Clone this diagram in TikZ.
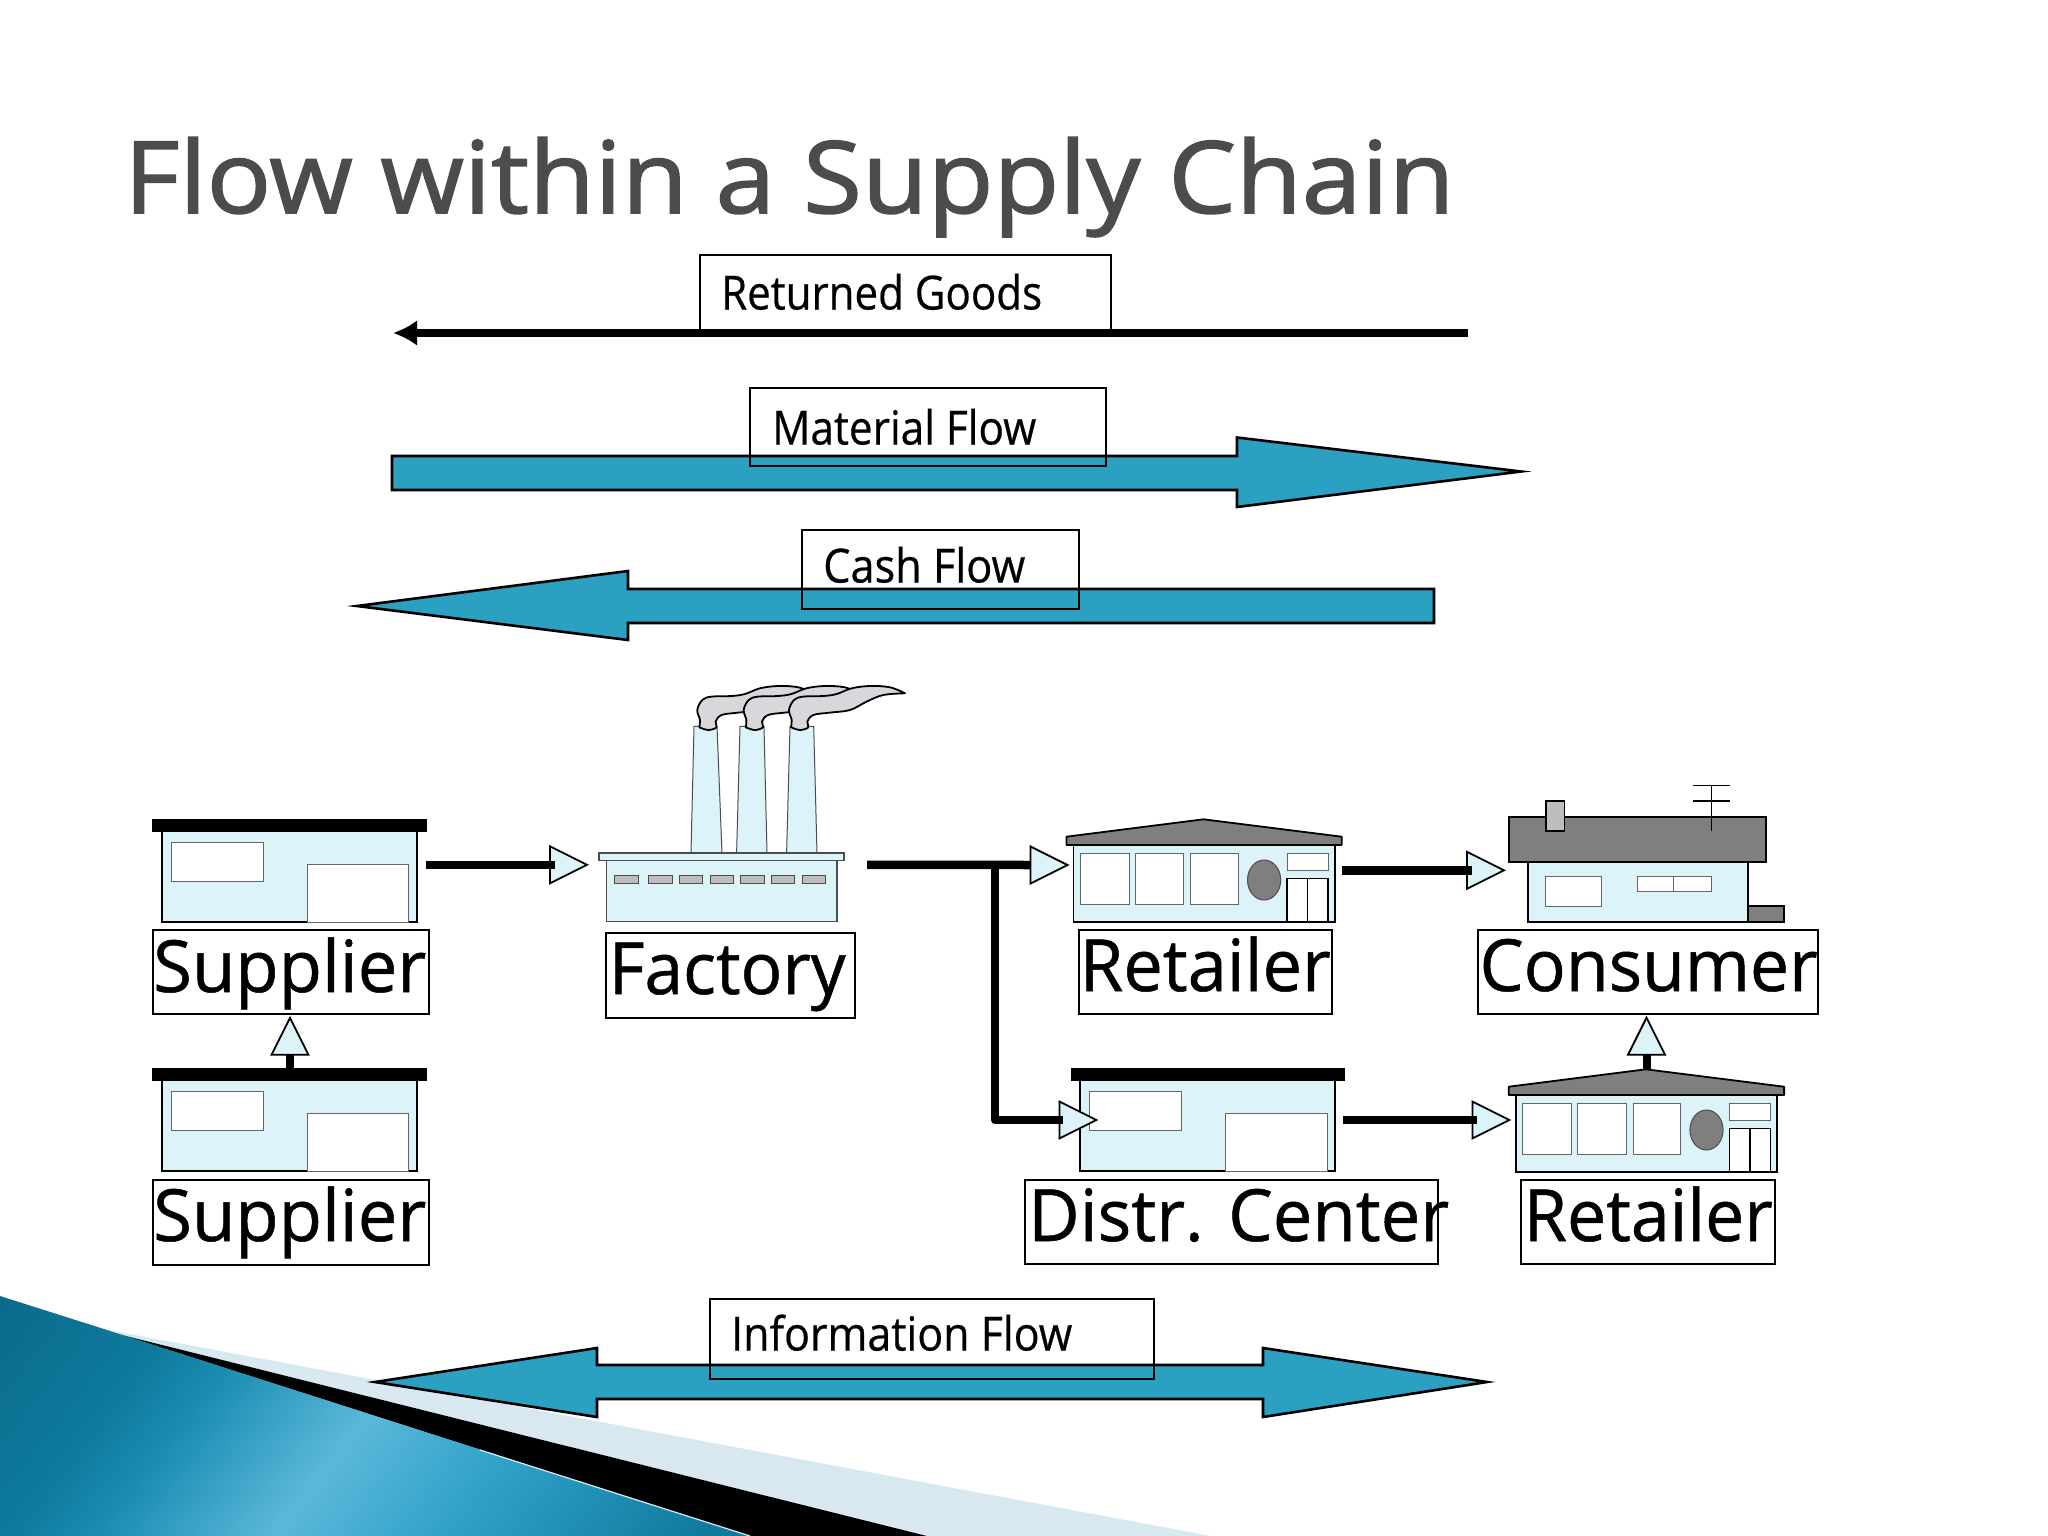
\documentclass[tikz,border=0pt]{standalone}
\usepackage{fontspec}
\setmainfont{Open Sans}
\newfontfamily\heavyfont[FakeBold=1.5]{Open Sans}
\newfontfamily\labelfont[FakeBold=0.7]{Open Sans}
\newfontfamily\midfont[FakeBold=0.5]{Open Sans}
\usetikzlibrary{fit,arrows.meta}
\definecolor{flowblue}{HTML}{2CA0C0}
\definecolor{paleblue}{HTML}{DCF3FA}
\definecolor{roofgray}{HTML}{7F7F7F}
\definecolor{wingray}{HTML}{BDBDBD}
\definecolor{smokegray}{HTML}{D8D8DC}
\definecolor{sliver}{HTML}{D8E8F0}
\definecolor{titlegray}{HTML}{4C4C4C}
\definecolor{dk}{HTML}{0A6A8C}
\definecolor{dk2}{HTML}{0E7A9C}
\definecolor{md}{HTML}{1A8CB2}
\definecolor{lt}{HTML}{5BB8DA}
\definecolor{mb}{HTML}{2FA0C8}
\definecolor{de}{HTML}{0F7A9C}
\pgfdeclarehorizontalshading{decorshade}{100bp}{color(0bp)=(dk); color(30bp)=(dk); color(37.5bp)=(dk2); color(41bp)=(md); color(48bp)=(lt); color(55bp)=(mb); color(65bp)=(de); color(100bp)=(de)}
\newdimen\fitdim
\newcommand{\fitw}[2]{\setbox0=\hbox{#2}\fitdim=\wd0\relax\pgfmathsetmacro{\fitr}{#1/\fitdim}\scalebox{\fitr}[1]{\box0}}
\newcommand{\boxlabel}[5]{\coordinate (#1-a) at (#2,#3);\coordinate (#1-b) at (#4,#5);\node[lblbox,fit=(#1-a)(#1-b)] (#1) {};}
\newcommand{\headat}[2]{\begin{scope}[shift={(#1)},rotate=#2]\draw[headstyle] (0,0) -- (-37,18.5) -- (-37,-18.5) -- cycle;\end{scope}}
\tikzset{
  x=1pt,y=-1pt,
  lblbox/.style={draw=black,line width=2pt,inner sep=0pt},
  bigtext/.style={anchor=base west,inner sep=0pt,font=\labelfont\fontsize{72}{80}\selectfont},
  smalltext/.style={anchor=base west,inner sep=0pt,font=\midfont\fontsize{47}{54}\selectfont},
  headstyle/.style={draw=black,line width=1.8pt,fill=paleblue,line join=miter},
  flowline/.style={draw=black,line width=8.5pt},
  bigarrow/.style={draw=black,line width=2.6pt,fill=flowblue,line join=miter},
  wall/.style={draw=black,line width=1.8pt,fill=paleblue},
  pane/.style={draw=black!60,line width=1pt,fill=white},
  pics/depot/.style={code={
    \fill[black] (0,0) rectangle (274.6,13);
    \draw[wall] (9.6,12) rectangle (264.6,103);
    \draw[pane] (18.6,23) rectangle (110.6,62.5);
    \draw[pane] (155,45.5) rectangle (256.5,103);
  }},
  pics/shop/.style={code={
    \draw[wall] (7,25.7) rectangle (268.4,102.7);
    \draw[draw=black,line width=1.8pt,fill=roofgray,line join=round] (0,17.4) -- (137.1,0) -- (275.3,17.4) -- (275.3,25.7) -- (0,25.7) -- cycle;
    \draw[pane] (13.6,34) rectangle (62.6,85);
    \draw[pane] (69.1,34) rectangle (117.3,85);
    \draw[pane] (124.3,34) rectangle (172,85);
    \draw[draw=black!70,line width=1pt,fill=roofgray] (197.7,60.7) ellipse [x radius=16.6,y radius=20];
    \draw[pane] (220.6,34) rectangle (261.6,51);
    \draw[draw=black,line width=1.6pt,fill=white] (220.6,59) rectangle (261.6,102.7);
    \draw[draw=black,line width=1.6pt] (241,59) -- (241,102.7);
  }},
  pics/smoke/.style={code={
    \draw[draw=black,line width=1.8pt,fill=smokegray,line join=round]
      plot[smooth,tension=0.6] coordinates {(0,0) (0.7,-7.3) (-2,-17.3) (3,-27.3) (12.3,-30.7) (32.3,-31.3) (45.7,-33.3) (60.7,-39) (79,-41.3) (99,-40) (114,-34)}
      -- plot[smooth,tension=0.6] coordinates {(114,-34) (92.3,-32.3) (75.7,-25.7) (59,-17.3) (39,-14.7) (22.3,-12.3) (16.3,-5.7) (17.3,0) (9,2.7) (0,0)} -- cycle;
  }},
}
\begin{document}
\begin{tikzpicture}
\useasboundingbox (0,0) rectangle (2048,1536);
\fill[white] (0,0) rectangle (2048,1536);
% corner decoration
\fill[sliver] (108,1330) -- (1211,1536) -- (750,1536) -- cycle;
\fill[black] (122,1335) -- (927,1536) -- (750,1536) -- cycle;
\begin{scope}
  \clip (0,1296) -- (107,1330) -- (750,1536) -- (0,1536) -- cycle;
  \begin{scope}[transform canvas={rotate=-38}]
    \shade[shading=decorshade] (700,600) rectangle (1700,1400);
  \end{scope}
\end{scope}
\draw[sliver,line width=1.2pt] (480,1450) -- (750,1536);
% title
\node[anchor=base west,inner sep=0pt,text=titlegray,font=\heavyfont\fontsize{100}{110}\selectfont] (title) at (124,213) {\fitw{1330}{Flow within a Supply Chain}};
% flow arrows
\coordinate (retStart) at (1468,333);
\coordinate (retEnd) at (393,333);
\draw[line width=7.5pt,-{Latex[length=24pt,width=26pt]}] (retStart) -- (retEnd);
\boxlabel{retbox}{700}{254.7}{1111}{332}
\node[smalltext] (rettext) at (721,309.5) {\fitw{321}{Returned Goods}};
\draw[bigarrow] (392,456) -- (1237,456) -- (1237,437.5) -- (1521,471.5) -- (1237,507) -- (1237,490) -- (392,490) -- cycle;
\boxlabel{matbox}{750}{388}{1106}{466}
\node[smalltext] (mattext) at (772,444.5) {\fitw{264}{Material Flow}};
\draw[bigarrow] (1434,589) -- (628,589) -- (628,571) -- (357,606) -- (628,640) -- (628,623) -- (1434,623) -- cycle;
\boxlabel{cashbox}{802}{530}{1079}{609}
\node[smalltext] (cashtext) at (823,582.5) {\fitw{202}{Cash Flow}};
\draw[bigarrow] (375,1382) -- (597,1348) -- (597,1365) -- (1263,1365) -- (1263,1348) -- (1487,1382) -- (1263,1417) -- (1263,1399) -- (597,1399) -- (597,1417) -- cycle;
\boxlabel{infobox}{710}{1299}{1154}{1379}
\node[smalltext] (infotext) at (731,1350.5) {\fitw{341}{Information Flow}};
% buildings
\pic at (152.4,819) {depot};
\pic at (152.4,1068) {depot};
\pic at (1070.7,1068) {depot};
\pic at (1066.4,819.3) {shop};
\pic at (1508.8,1069.3) {shop};
% factory
\foreach \a/\b/\c/\d in {691/694/717/722,736.6/740/764/767,786.6/790/813.7/817}{
  \draw[draw=black!70,line width=1pt,fill=paleblue] (\a,853) -- (\b,726.4) -- (\c,726.4) -- (\d,853) -- cycle;
}
\pic at (699.3,727.3) {smoke};
\pic at (745.7,727.3) {smoke};
\pic at (791,727.3) {smoke};
\draw[draw=black!70,line width=1.2pt,fill=paleblue] (606.5,860.5) rectangle (837,921.8);
\draw[draw=black!70,line width=1.2pt,fill=paleblue] (599,853) rectangle (844,860.5);
\foreach \a/\b in {614/638,648/672,679/702.5,710/733.6,740.7/764,771/794,802/825}{
  \draw[draw=black!70,line width=1pt,fill=wingray] (\a,875) rectangle (\b,883.8);
}
% consumer house
\draw[wall] (1527.6,861.7) rectangle (1747.7,922);
\draw[draw=black,line width=1.8pt,fill=roofgray] (1747.7,906) rectangle (1784,922);
\draw[draw=black,line width=1.8pt,fill=roofgray] (1508.8,816.7) rectangle (1766,861.7);
\draw[draw=black,line width=1.8pt,fill=wingray] (1545.8,800.7) rectangle (1564.5,831.3);
\draw[black,line width=1.4pt] (1711.3,785.7) -- (1711.3,831.3);
\draw[black,line width=1.4pt] (1692.5,785.7) -- (1729.5,785.7);
\draw[black,line width=1.4pt] (1692.5,801) -- (1729.5,801);
\draw[pane] (1545.8,876.7) rectangle (1601,906.3);
\draw[pane] (1637.4,876.7) rectangle (1711.3,891.7);
\draw[draw=black!60,line width=1pt] (1673.8,876.7) -- (1673.8,891.7);
% connector anchors
\coordinate (supA) at (426,864.8);
\coordinate (facIn) at (587,864.8);
\coordinate (facOut) at (867,864.8);
\coordinate (retIn) at (1067.5,865);
\coordinate (branch) at (995,865);
\coordinate (branchLow) at (995,1120);
\coordinate (dcIn) at (1096.4,1120);
\coordinate (retOut) at (1341.7,870.3);
\coordinate (conIn) at (1504,870.3);
\coordinate (dcOut) at (1343.3,1120);
\coordinate (ret2In) at (1509.4,1120);
\coordinate (sup2Top) at (290,1068);
\coordinate (sup1Bot) at (290,1017.8);
\coordinate (ret2Top) at (1646.5,1070);
\coordinate (conBot) at (1646.5,1017.7);
% arrowheads then shafts
\headat{facIn}{0}
\headat{retIn}{0}
\headat{dcIn}{0}
\headat{conIn}{0}
\headat{ret2In}{0}
\headat{sup1Bot}{90}
\headat{conBot}{90}
\draw[flowline] (supA) -- ([xshift=-32pt]facIn);
\draw[flowline] (facOut) -- ([xshift=-37pt]retIn);
\draw[flowline,line join=round] (branch) -- (branchLow) -- ([xshift=-33pt]dcIn);
\draw[flowline] (retOut) -- ([xshift=-32pt]conIn);
\draw[flowline] (dcOut) -- ([xshift=-32pt]ret2In);
\draw[black,line width=8pt] (sup2Top) -- ([yshift=-36.5pt]sup1Bot);
\draw[black,line width=8pt] (ret2Top) -- ([yshift=-36.5pt]conBot);
% big labels
\boxlabel{sup1box}{153}{929.7}{428.5}{1014.3}
\node[bigtext] (sup1text) at (153,992) {\fitw{273}{Supplier}};
\boxlabel{sup2box}{153}{1180.4}{428.5}{1264.6}
\node[bigtext] (sup2text) at (153,1241) {\fitw{273}{Supplier}};
\boxlabel{facbox}{606}{932.8}{855}{1017.5}
\node[bigtext] (factext) at (608.5,994) {\fitw{237}{Factory}};
\boxlabel{ret1box}{1078.7}{930}{1332}{1014}
\node[bigtext] (ret1text) at (1079.6,991) {\fitw{251}{Retailer}};
\boxlabel{conbox}{1478.3}{930}{1818.4}{1014}
\node[bigtext] (context) at (1479.4,991) {\fitw{338}{Consumer}};
\boxlabel{dcbox}{1025}{1180}{1437.6}{1264}
\node[bigtext] (dctext) at (1028,1241) {\fitw{421}{Distr. Center}};
\boxlabel{ret2box}{1521.2}{1180}{1774.5}{1264}
\node[bigtext] (ret2text) at (1523.6,1241) {\fitw{249}{Retailer}};
\end{tikzpicture}
\end{document}
